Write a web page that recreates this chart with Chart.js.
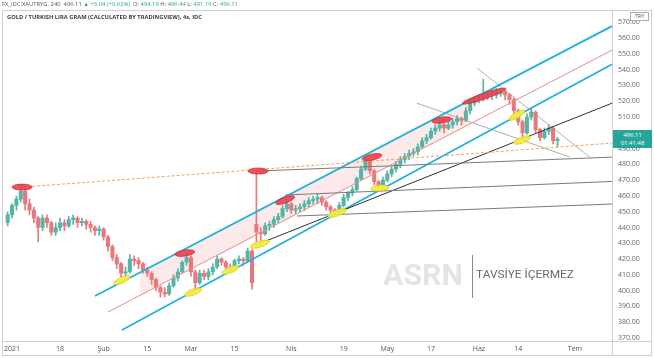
<!DOCTYPE html>
<html><head><meta charset="utf-8">
<script src="https://cdn.jsdelivr.net/npm/chart.js@4.4.0/dist/chart.umd.min.js"></script>
<style>
html,body{margin:0;padding:0;background:#fff;}
#wrap{position:relative;width:654px;height:358px;overflow:hidden;font-family:"Open Sans","Liberation Sans",Arial,sans-serif;background:#fff;}
#c{position:absolute;left:0;top:0;}
.ov{position:absolute;white-space:nowrap;transform-origin:0 50%;}
#hdr{left:2px;top:0px;font-size:5.6px;line-height:8px;color:#555;}
#hdr .t{color:#26a69a;}
#title{left:7px;top:13px;font-size:6px;line-height:9px;font-weight:bold;color:#3a3a3a;}
#wm{left:383px;top:255px;font-family:Roboto,"Open Sans",sans-serif;font-weight:bold;font-size:30px;line-height:40px;color:#e4e4e4;}
#wmbar{position:absolute;left:472px;top:255px;width:1px;height:43px;background:#8a8a8a;}
#wmtxt{left:476px;top:268px;font-family:Roboto,"Open Sans",sans-serif;font-size:10px;line-height:14px;color:#6a6a6a;}
#plab{position:absolute;left:613px;top:130px;width:39px;height:18px;background:#26a69a;color:#fff;font-size:6px;line-height:8px;text-align:center;padding-top:1px;box-sizing:border-box;}
#try{position:absolute;left:630px;top:12px;width:19px;height:9px;border:1px solid #aaa;box-sizing:border-box;background:#fff;color:#555;font-size:5.5px;line-height:7px;text-align:center;}
</style></head>
<body>
<div id="wrap">
<canvas id="c" width="654" height="358"></canvas>
<div class="ov" id="hdr">FX_IDC:XAUTRYG, 240 &nbsp;496.11 <span class="t">▲ +3.04 (+0.62%)</span> &nbsp;O: <span class="t">494.19</span> H: <span class="t">496.44</span> L: <span class="t">491.19</span> C: <span class="t">496.11</span></div>
<div class="ov" id="title">GOLD / TURKISH LIRA GRAM (CALCULATED BY TRADINGVIEW), 4s, IDC</div>
<div class="ov" id="wm">ASRN</div>
<div id="wmbar"></div>
<div class="ov" id="wmtxt">TAVSİYE İÇERMEZ</div>
<div id="plab">496.11<br>01:41:48</div>
<div id="try">TRY</div>
</div>
<script>
// ---- data: one candle per trading day, x = trading-day index (0 = 1 Jan 2021)
const firstDay = -1;
const opens  = [443,448,454,458,463,455,451,446,440,446,443,437,440,443,441,445,446,443,444,442,440,438,439,434,428,421,417,411,412,420,419,417,413,411,407,402,399,398,403,408,412,418,421,412,405,411,409,412,415,420,418,415,414,419,420,419,425,442,437,436,441,442,445,447,452,455,451,452,453,455,457,458,459,456,453,451,450,454,459,462,464,471,477,482,476,469,466,470,474,477,480,483,485,487,488,491,495,497,501,503,505,503,505,507,509,508,514,519,521,522,525,524,524,525,526,524,521,514,507,500,510,513,502,497,501,503,495];
const highs  = [450,455,460,467,466,458,453,447,448,448,444,443,446,445,447,448,447,446,445,444,441,441,440,435,429,423,418,415,423,422,421,418,415,412,408,403,402,405,410,414,419,424,422,413,413,413,414,417,422,421,419,417,420,422,421,427,426,476,440,443,444,447,449,454,458,456,454,455,457,459,460,461,460,457,454,452,456,461,463,466,472,479,485,483,477,470,472,476,479,482,485,487,489,490,493,497,499,503,505,508,506,507,509,511,510,516,521,523,524,534,527,527,528,528,527,525,522,515,508,512,516,514,503,503,505,504,497];
const lows   = [441,446,451,456,451,448,443,431,438,440,435,435,438,438,440,442,440,441,439,437,435,435,432,425,419,414,408,409,411,416,414,411,409,404,400,396,396,397,402,406,411,416,409,401,404,407,407,410,414,416,413,412,413,417,416,418,401,431,432,435,438,440,443,446,450,449,449,450,451,453,455,455,454,451,449,448,449,453,457,460,463,470,476,474,467,464,465,469,472,475,478,481,483,485,486,490,493,496,499,501,500,502,503,505,505,507,512,517,519,520,521,521,522,523,521,518,511,505,496,499,508,500,495,496,499,493,491];
const closes = [448,454,458,463,455,451,446,440,446,443,437,440,443,441,445,446,443,444,442,440,438,439,434,428,421,417,411,412,420,419,417,413,411,407,402,399,398,403,408,412,418,421,412,405,411,409,412,415,420,418,415,414,419,420,419,425,405,437,436,441,442,445,447,452,455,451,452,453,455,457,458,459,456,453,451,450,454,459,462,464,471,477,482,476,469,466,470,474,477,480,483,485,487,488,491,495,497,501,503,505,503,505,507,509,508,514,519,521,522,525,524,524,525,526,524,521,514,507,500,510,513,502,497,501,503,495,496.11];

const xTickDays   = [0, 11, 21, 31, 41, 51, 64, 76, 86, 96, 107, 116, 129];
const xTickLabels = ['2021','18','Şub','15','Mar','15','Nis','19','May','17','Haz','14','Tem'];
const yTickValues = [370,380,390,400,410,420,430,440,450,460,470,480,490,500,510,520,530,540,550,560,570];

// drawn trend lines: [day1, price1, day2, price2]
const orangeDashed = [2.3, 465.6, 137.5, 493.5];
const grayTop      = [56.4, 475.8, 137.5, 484.6];
const grayMid      = [62.6, 460.6, 137.5, 469.2];
const grayLow      = [65.3, 447.3, 137.5, 454.9];
const blackSupport = [56.4, 429.5, 137.5, 518.8];
const cyanUpper    = [19.0, 396.6, 137.5, 567.6];
const redMiddle    = [22.0, 386.5, 137.5, 552.4];
const cyanLower    = [25.2, 375.1, 137.5, 543.5];
const descA        = [106.6, 541.0, 132.4, 484.6];
const descB        = [92.8, 518.8, 127.9, 484.6];
const pinkTop      = [29.3, 411.5, 104.9, 520.6];
const pinkBottom   = [29.3, 397.0, 104.9, 505.6];

// marked highs / lows [day, price]
const redMarks    = [[2.3,465.6],[39.6,423.8],[56.4,475.8],[62.6,457.4],[82.5,484.6],[98.5,508.1],[108.2,523.3]];
const yellowMarks = [[25.2,406.7],[41.5,399.1],[50.0,413.1],[56.8,429.5],[74.5,449.2],[84.3,465.0],[115.7,511.2],[116.9,495.4]];
// marker shapes (style only): [width px, height px, rotation deg]
const redShape    = [[20,6,0],[20,6,-8],[20,6,0],[20,6,-20],[20,6,-12],[20,6,-8],[46,6,-19]];
const yellowShape = [[18,6,-25],[18,6,-20],[18,6,-22],[20,6,-18],[20,6,-20],[18,6,-5],[18,6,-30],[18,6,-20]];

// ---- build datasets
const UP = '#56b5a6', DN = '#e8787c';
const wickData = [], bodyData = [], cols = [];
for (let i = 0; i < closes.length; i++) {
  const d = firstDay + i;
  wickData.push({x: d, y: [lows[i], highs[i]]});
  bodyData.push({x: d, y: [opens[i], closes[i]]});
  cols.push(closes[i] >= opens[i] ? UP : DN);
}
function seg(a){ return [{x:a[0], y:a[1]}, {x:a[2], y:a[3]}]; }
function line(a, color, w, extra){
  return Object.assign({type:'line', data:seg(a), borderColor:color, borderWidth:w, pointRadius:0, fill:false, order:0, tension:0}, extra||{});
}

const decor = {
  id:'decor',
  afterDatasetsDraw(chart){
    const {ctx, scales:{x, y}, chartArea:a} = chart;
    ctx.save();
    ctx.beginPath(); ctx.rect(a.left, a.top, a.right-a.left, a.bottom-a.top); ctx.clip();
    const draw = (marks, shapes, fill, stroke) => {
      marks.forEach((m, i) => {
        const [w, h, r] = shapes[i];
        ctx.beginPath();
        ctx.ellipse(x.getPixelForValue(m[0]), y.getPixelForValue(m[1]), w/2, h/2, r*Math.PI/180, 0, Math.PI*2);
        ctx.fillStyle = fill; ctx.fill();
        ctx.strokeStyle = stroke; ctx.lineWidth = 0.8; ctx.stroke();
      });
    };
    draw(redMarks, redShape, 'rgba(232,62,72,0.88)', 'rgba(200,40,50,0.9)');
    draw(yellowMarks, yellowShape, 'rgba(246,236,60,0.95)', 'rgba(210,198,40,0.9)');
    ctx.restore();
  },
  afterDraw(chart){
    const {ctx, chartArea:a} = chart;
    ctx.save();
    ctx.strokeStyle = '#cfcfcf'; ctx.lineWidth = 1;
    ctx.strokeRect(2.5, 10.5, 649, 345);
    ctx.beginPath();
    ctx.moveTo(Math.round(a.right)+0.5, 10.5); ctx.lineTo(Math.round(a.right)+0.5, 355.5);
    ctx.moveTo(2.5, Math.round(a.bottom)+0.5); ctx.lineTo(651.5, Math.round(a.bottom)+0.5);
    ctx.stroke();
    ctx.restore();
  }
};

new Chart(document.getElementById('c'), {
  type:'bar',
  data:{ datasets:[
    line(orangeDashed, '#f0a262', 1, {borderDash:[3,2]}),
    line(grayTop, '#7a7a7a', 1),
    line(grayMid, '#7a7a7a', 1),
    line(grayLow, '#7a7a7a', 1),
    line(blackSupport, '#303030', 1),
    line(cyanUpper, '#22b1dc', 1.8),
    line(redMiddle, '#e98a8c', 1),
    line(cyanLower, '#22b1dc', 1.8),
    line(descA, '#9a9a9a', 0.8),
    line(descB, '#9a9a9a', 0.8),
    {type:'bar', data:wickData, backgroundColor:cols, barThickness:1, grouped:false, order:1},
    {type:'bar', data:bodyData, backgroundColor:cols, barThickness:3.4, minBarLength:1, grouped:false, order:1},
    line(pinkTop, 'rgba(0,0,0,0)', 0, {fill:'+1', backgroundColor:'rgba(246,196,196,0.35)', order:2}),
    line(pinkBottom, 'rgba(0,0,0,0)', 0, {order:2})
  ]},
  options:{
    responsive:false, animation:false, devicePixelRatio:1,
    layout:{padding:{left:3, top:10, right:0, bottom:0}},
    plugins:{legend:{display:false}, tooltip:{enabled:false}},
    scales:{
      x:{type:'linear', min:-2, max:137.5, offset:false,
        grid:{display:false, drawTicks:false}, border:{display:false},
        afterBuildTicks:s=>{ s.ticks = xTickDays.map(v=>({value:v})); },
        afterFit:s=>{ s.height = 17; },
        ticks:{autoSkip:false, maxRotation:0, padding:4, color:'#555', font:{size:7, family:'"Open Sans", sans-serif'},
          callback:(v)=>{ const k = xTickDays.indexOf(v); return k>=0 ? xTickLabels[k] : ''; }}
      },
      y:{type:'linear', position:'right', min:368.1, max:577.7,
        grid:{display:false, drawTicks:false}, border:{display:false},
        afterBuildTicks:s=>{ s.ticks = yTickValues.map(v=>({value:v})); },
        afterFit:s=>{ s.width = 42; },
        ticks:{padding:6, color:'#666', font:{size:7, family:'"Open Sans", sans-serif'},
          callback:(v)=>Number(v).toFixed(2)}
      }
    }
  },
  plugins:[decor]
});

function fitWidth(id, w){ const el=document.getElementById(id); const cur=el.getBoundingClientRect().width; el.style.transform='scaleX('+(w/cur)+')'; }
fitWidth('hdr', 236);
fitWidth('title', 195);
fitWidth('wm', 80);
fitWidth('wmtxt', 98);
</script>
</body></html>
